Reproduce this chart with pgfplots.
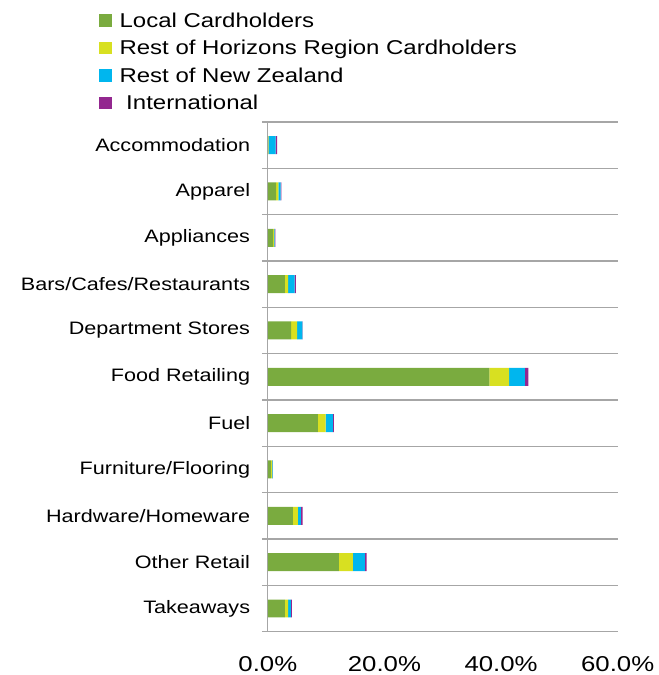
\documentclass[border=0pt]{standalone}
\usepackage{pgfplots}
\pgfplotsset{compat=1.18}
\usepackage{pgfplotstable}
\usepackage{fontspec}
\setmainfont{Liberation Sans}[FakeStretch=1.2]
\definecolor{cLocal}{HTML}{7AAB3F}
\definecolor{cHor}{HTML}{D8E021}
\definecolor{cNZ}{HTML}{00B6EE}
\definecolor{cInt}{HTML}{93278F}
\definecolor{gridc}{HTML}{A6A6A6}
\pgfplotstableread{
y local hor nz intl
0  2.9  0.57 0.46 0.17
1  12.2 2.4  2.06 0.3
2  4.3  0.86 0.5  0.3
3  0.5  0.23 0.1  0.05
4  8.6  1.3  1.26 0.17
5  38.0 3.4  2.7  0.57
6  4.0  1.03 0.9  0.05
7  2.9  0.57 1.14 0.2
8  0.9  0.17 0.1  0.1
9  1.4  0.4  0.4  0.1
10 0.1  0.05 1.2  0.25
}\datatable
\begin{document}
\begin{tikzpicture}
\path (-268pt,-43pt) rectangle (391pt,632pt);
\begin{axis}[
  at={(0,0)}, anchor=south west,
  scale only axis, width=350pt, height=510pt,
  xbar stacked, bar width=18pt,
  xmin=0, xmax=60, ymin=-0.5, ymax=10.5,
  axis lines*=left, axis line style={gridc, line width=1.2pt, -},
  xtick={0,20,40,60},
  xticklabels={0.0\%,20.0\%,40.0\%,60.0\%},
  x tick label style={font=\fontsize{21.5}{24}\selectfont, yshift=-17pt},
  xtick style={draw=none},
  ytick={0,...,10},
  yticklabels={Takeaways,Other Retail,Hardware/Homeware,Furniture/Flooring,Fuel,Food Retailing,Department Stores,Bars/Cafes/Restaurants,Appliances,Apparel,Accommodation},
  y tick label style={font=\fontsize{18}{20}\selectfont, xshift=-10pt},
  major y tick style={draw=none},
  minor ytick={-0.5,0.5,...,10.5},
  minor y tick style={gridc, line width=1.2pt},
  minor tick length=6pt, tick align=outside,
  yminorgrids, minor grid style={gridc, line width=1.2pt},
  legend style={at={(-0.483,1.218)}, anchor=north west, draw=none, fill=none,
    font=\fontsize{20}{23}\selectfont, row sep=7.5pt, inner sep=0pt,
    /tikz/every even column/.append style={column sep=8pt}},
  legend cell align=left,
  legend image code/.code={\fill[#1] (0pt,-6pt) rectangle (12.5pt,6.5pt);},
]
\addplot[fill=cLocal, draw=none] table[x=local, y=y] {\datatable};
\addlegendentry{\hspace*{6pt}Local Cardholders}
\addplot[fill=cHor, draw=none] table[x=hor, y=y] {\datatable};
\addlegendentry{\hspace*{6pt}Rest of Horizons Region Cardholders}
\addplot[fill=cNZ, draw=none] table[x=nz, y=y] {\datatable};
\addlegendentry{\hspace*{6pt}Rest of New Zealand}
\addplot[fill=cInt, draw=none] table[x=intl, y=y] {\datatable};
\addlegendentry{\hspace*{6pt}\ International}
\end{axis}
\end{tikzpicture}
\end{document}
